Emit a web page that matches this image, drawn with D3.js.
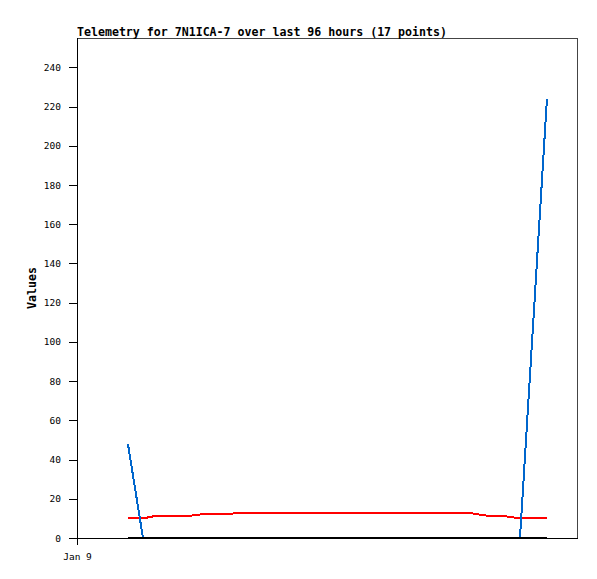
<!DOCTYPE html>
<html>
<head>
<meta charset="utf-8">
<script src="https://cdn.jsdelivr.net/npm/d3@7"></script>
<style>
  body { margin: 0; background: #fff; }
  svg { display: block; }
</style>
</head>
<body>
<svg id="chart" width="597" height="579"></svg>
<script>
// ---- data ----
const titleText = "Telemetry for 7N1ICA-7 over last 96 hours (17 points)";
const yLabel = "Values";
const times = [
  "2024-01-09T09:47", "2024-01-09T12:40", "2024-01-09T14:35", "2024-01-09T20:33",
  "2024-01-09T23:37", "2024-01-10T04:37", "2024-01-10T07:29", "2024-01-10T14:36",
  "2024-01-10T21:53", "2024-01-11T05:00", "2024-01-11T12:17", "2024-01-11T19:23",
  "2024-01-12T02:41", "2024-01-12T07:41", "2024-01-12T10:22", "2024-01-12T13:03",
  "2024-01-12T18:14"
];
const redValues   = [10, 10, 11, 11, 12, 12, 13, 13, 13, 13, 13, 13, 13, 11, 11, 10, 10];
const blueValues  = [48, 0, 0, 0, 0, 0, 0, 0, 0, 0, 0, 0, 0, 0, 0, 0, 224];
const blackValues = [0, 0, 0, 0, 0, 0, 0, 0, 0, 0, 0, 0, 0, 0, 0, 0, 0];
const yTicks = [0, 20, 40, 60, 80, 100, 120, 140, 160, 180, 200, 220, 240];
const xDomain = ["2024-01-09T00:00", "2024-01-13T00:00"];
const xTicks = ["2024-01-09T00:00"];

// ---- layout ----
const mLeft = 77, mRight = 577, mTop = 38, mBottom = 538;
const parse = d3.isoParse;
const svg = d3.select("#chart");

const x = d3.scaleTime().domain(xDomain.map(parse)).range([mLeft, mRight]);
const y = d3.scaleLinear().domain([0, 255]).range([mBottom, mTop]);

const tickFont = "'DejaVu Sans Mono', monospace";
const boldFont = "'DejaVu Sans Mono', monospace";

// frame (top/right grey)
svg.append("path")
  .attr("d", `M${mLeft},${mTop + 0.5}H${mRight + 0.5}V${mBottom}`)
  .attr("fill", "none").attr("stroke", "#444").attr("stroke-width", 1)
  .attr("shape-rendering", "crispEdges");

// clip for data
svg.append("clipPath").attr("id", "plotclip")
  .append("rect").attr("x", mLeft).attr("y", mTop).attr("width", mRight - mLeft).attr("height", mBottom - mTop + 1);

// y axis
const yAxis = d3.axisLeft(y).tickValues(yTicks).tickSize(8).tickPadding(8).tickSizeOuter(0);
const gy = svg.append("g").attr("transform", `translate(${mLeft},0)`).call(yAxis);
gy.select(".domain").remove();
gy.append("line").attr("x1", 0.5).attr("x2", 0.5).attr("y1", mTop).attr("y2", mBottom)
  .attr("stroke", "#000").attr("shape-rendering", "crispEdges");
gy.selectAll("text").attr("font-family", tickFont).attr("font-size", "9.5px").attr("fill", "#000");
gy.selectAll(".tick line").attr("shape-rendering", "crispEdges");

// x axis
const xAxis = d3.axisBottom(x).tickValues(xTicks.map(parse)).tickSize(7).tickPadding(8)
  .tickSizeOuter(0).tickFormat(d3.timeFormat("%b %-d"));
const gx = svg.append("g").attr("transform", `translate(0,${mBottom})`).call(xAxis);
gx.select(".domain").attr("shape-rendering", "crispEdges");
gx.selectAll(".tick line").attr("shape-rendering", "crispEdges");
gx.selectAll("text").attr("font-family", tickFont).attr("font-size", "9.5px").attr("fill", "#000");

// series
const pts = vals => vals.map((v, i) => [x(parse(times[i])), y(v)]);
const line = d3.line();
const series = [
  { vals: redValues, color: "#ff0000" },
  { vals: blueValues, color: "#0066cc" },
  { vals: blackValues, color: "#000000" }
];
const gd = svg.append("g").attr("clip-path", "url(#plotclip)");
series.forEach(s => {
  gd.append("path").attr("d", line(pts(s.vals)))
    .attr("fill", "none").attr("stroke", s.color).attr("stroke-width", 2)
    .attr("shape-rendering", "crispEdges");
});

// title
svg.append("text").attr("x", mLeft).attr("y", 35.5)
  .attr("font-family", boldFont).attr("font-weight", "bold").attr("font-size", "11.6px")
  .attr("fill", "#000").text(titleText);

// y label
svg.append("text")
  .attr("transform", `translate(36,${(mTop + mBottom) / 2}) rotate(-90)`)
  .attr("text-anchor", "middle")
  .attr("font-family", boldFont).attr("font-weight", "bold").attr("font-size", "11.6px")
  .attr("fill", "#000").text(yLabel);
</script>
</body>
</html>
